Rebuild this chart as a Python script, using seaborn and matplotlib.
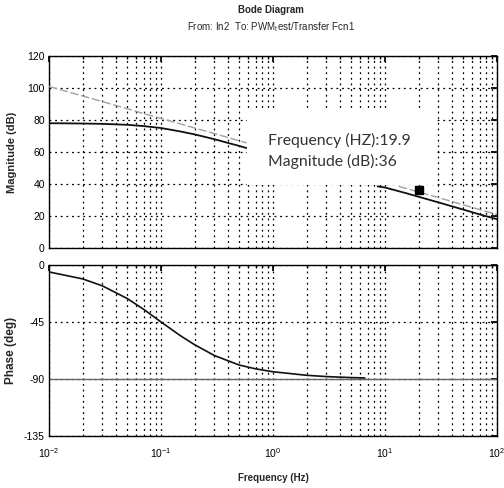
# Libraries
# =====================================================================
import numpy as np
import pandas as pd
import seaborn as sns
import matplotlib
matplotlib.use('Agg')
import matplotlib.pyplot as plt
import matplotlib.ticker as ticker
from matplotlib.patches import Rectangle

# Data
# =====================================================================
# Magnitude, low frequency part (left of the data tip box)
freq_lo = [0.01, 0.015, 0.02, 0.03, 0.05, 0.07, 0.1, 0.15, 0.2, 0.3, 0.4, 0.5, 0.58]
mag_lo = [78.0, 77.9, 77.8, 77.6, 77.0, 76.2, 75.0, 72.8, 71.0, 68.0, 65.6, 63.8, 62.5]
ref_lo = [101.0, 97.5, 95.0, 91.5, 87.0, 84.0, 81.0, 77.5, 75.0, 71.5, 69.0, 67.0, 65.7]

# Magnitude, high frequency part (right of the data tip box)
freq_hi = [8.6, 10, 15, 20, 30, 50, 70, 100]
mag_hi = [38.5, 37.8, 34.5, 32.0, 28.5, 24.0, 21.0, 18.0]
freq_ref_hi = [13.3, 20, 30, 50, 70, 100]
ref_hi = [38.5, 35.0, 31.5, 27.0, 24.0, 21.0]

# Phase
freq_ph = [0.01, 0.02, 0.03, 0.05, 0.07, 0.1, 0.15, 0.2, 0.3, 0.5, 0.7, 1, 2, 3, 5, 6.6]
phase = [-5.5, -11.0, -16.5, -26.5, -35.0, -45.0, -56.0, -63.0, -71.5, -79.0, -82.0,
         -84.3, -87.1, -88.1, -88.9, -89.2]

# Data tip
tip_freq = 19.9
tip_mag = 36

mag_ticks = [0, 20, 40, 60, 80, 100, 120]
phase_ticks = [0, -45, -90, -135]

# Data Visualization
# =====================================================================
sns.set_theme(style="white")
plt.rcParams['font.family'] = ['Liberation Sans', 'DejaVu Sans']
plt.rcParams['mathtext.fontset'] = 'custom'
plt.rcParams['mathtext.rm'] = 'Liberation Sans'
plt.rcParams['mathtext.it'] = 'Liberation Sans'
plt.rcParams['axes.unicode_minus'] = False

fig = plt.figure(figsize=(5.04, 4.88), dpi=100)
ax1 = fig.add_axes([0.0972, 0.4918, 0.889, 0.3934])
ax2 = fig.add_axes([0.0972, 0.1066, 0.889, 0.3504])

df_lo = pd.DataFrame({'f': freq_lo, 'mag': mag_lo, 'ref': ref_lo})
df_hi = pd.DataFrame({'f': freq_hi, 'mag': mag_hi})
df_ref_hi = pd.DataFrame({'f': freq_ref_hi, 'ref': ref_hi})
df_ph = pd.DataFrame({'f': freq_ph, 'phase': phase})

gray = '#a0a0a0'

# Magnitude curves
sns.lineplot(data=df_lo, x='f', y='ref', ax=ax1, color=gray, lw=1.0, linestyle=(0, (6, 2)), zorder=3)
sns.lineplot(data=df_lo, x='f', y='mag', ax=ax1, color='#111111', lw=1.3, zorder=4)
sns.lineplot(data=df_ref_hi, x='f', y='ref', ax=ax1, color=gray, lw=1.0, linestyle=(0, (6, 2)), zorder=3)
sns.lineplot(data=df_hi, x='f', y='mag', ax=ax1, color='#111111', lw=1.3, zorder=4)

# Phase curve
ax2.axhline(-90, color='#666666', lw=1.0, zorder=2)
sns.lineplot(data=df_ph, x='f', y='phase', ax=ax2, color='#111111', lw=1.2, zorder=4)

for ax in (ax1, ax2):
    ax.set_xscale('log')
    ax.set_xlim(0.01, 100)
    ax.xaxis.set_major_locator(ticker.LogLocator(base=10, numticks=10))
    ax.xaxis.set_minor_locator(ticker.LogLocator(base=10, subs=np.arange(2, 10), numticks=20))
    ax.grid(which='both', axis='x', color='black', linestyle=(0, (1.5, 3)), linewidth=0.9)
    ax.grid(which='major', axis='y', color='black', linestyle=(0, (1.5, 3)), linewidth=0.9)
    ax.tick_params(which='both', direction='in', top=True, right=True, labelsize=7.5, colors='black')
    ax.tick_params(which='major', length=4)
    ax.tick_params(which='minor', length=2)
    ax.tick_params(axis='y', pad=3)
    ax.set_xlabel('')
    ax.set_ylabel('')
    for sp in ax.spines.values():
        sp.set_color('black')
        sp.set_linewidth(1.0)

ax1.set_ylim(0, 120)
ax1.set_yticks(mag_ticks)
ax1.tick_params(axis='x', which='both', labelbottom=False)
ax1.set_ylabel('Magnitude (dB)', fontsize=8, fontweight='bold')
ax1.yaxis.set_label_coords(-0.072, 0.5)

ax2.set_ylim(-135, 0)
ax2.set_yticks(phase_ticks)
ax2.tick_params(axis='x', pad=7)
ax2.set_ylabel('Phase (deg)', fontsize=8.5, fontweight='bold')
ax2.yaxis.set_label_coords(-0.072, 0.5)
ax2.set_xlabel('Frequency (Hz)', fontsize=7, fontweight='bold', labelpad=10)

# Data tip box and marker
ax1.add_patch(Rectangle((0.58, 39.5), 27.5 - 0.58, 48, facecolor='white', edgecolor='none', zorder=5))
ax1.plot([tip_freq], [tip_mag], marker='s', color='black', markersize=6, zorder=6)
ax1.text(0.90, 60.6, f'Frequency (HZ):{tip_freq}\nMagnitude (dB):{tip_mag}',
         fontsize=11.3, color='#333333', family=['Lato', 'DejaVu Sans'],
         ha='left', va='center', linespacing=1.45, zorder=7)

# Titles
fig.text(0.537, 0.979, 'Bode Diagram', ha='center', va='center', fontsize=7, fontweight='bold')
fig.text(0.537, 0.944, 'From: In2  To: PWM$_{\\mathregular{t}}$est/Transfer Fcn1', ha='center', va='center', fontsize=7)

fig.savefig('out.png', dpi=100)
